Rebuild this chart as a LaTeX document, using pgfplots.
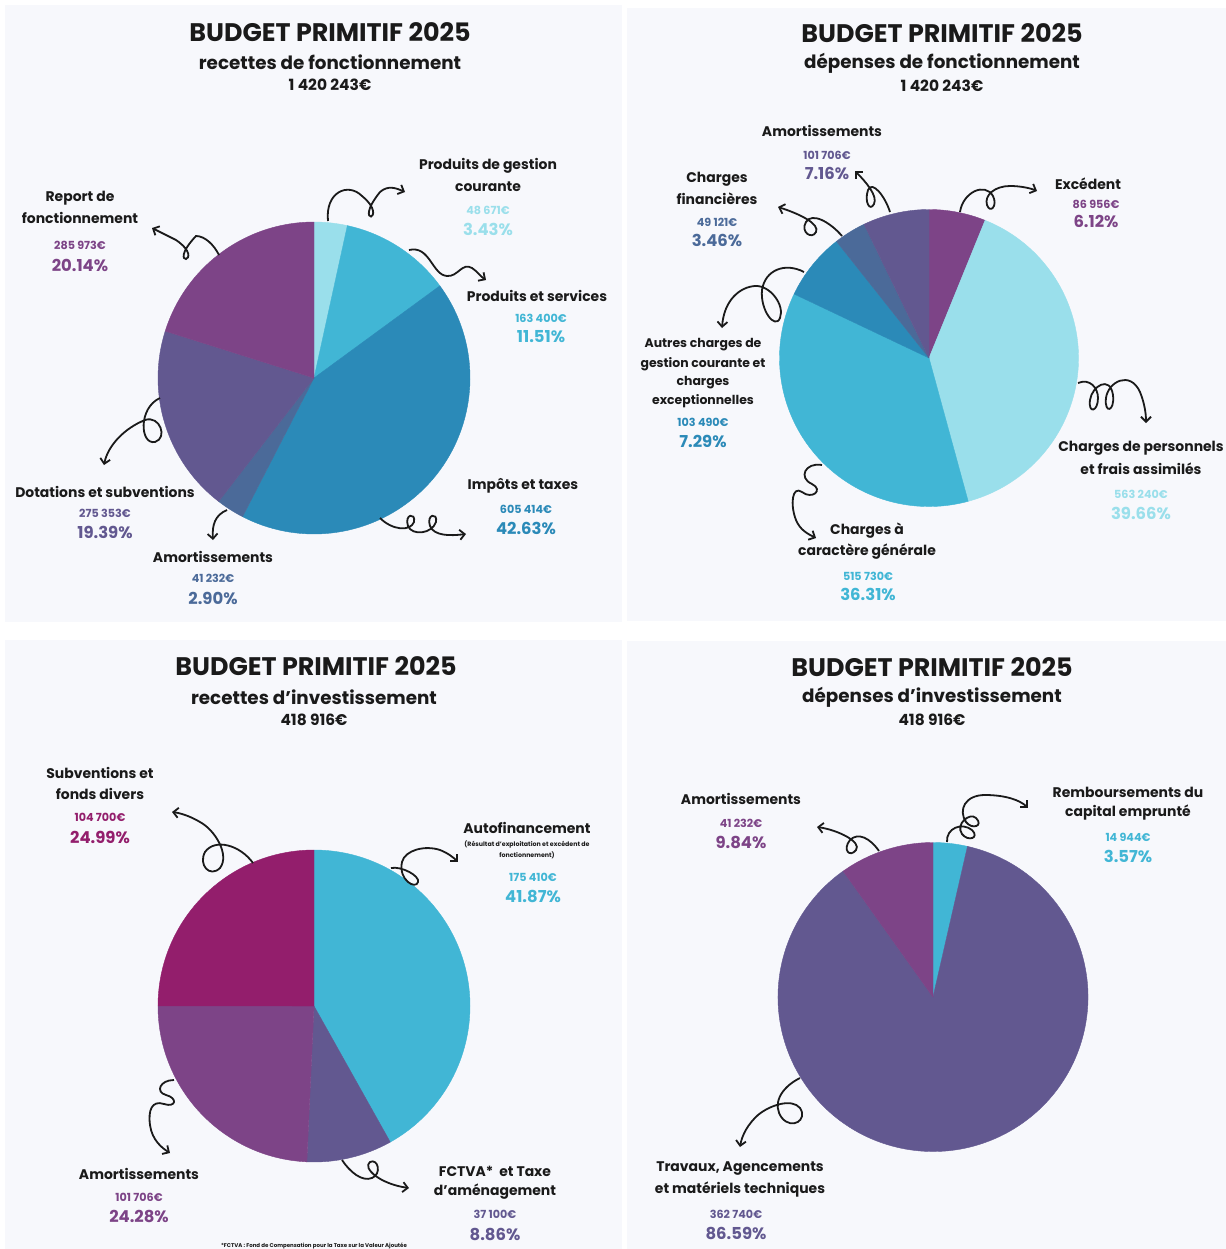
\documentclass[border=0pt]{standalone}
\usepackage{pgfplots}
\pgfplotsset{compat=1.18}
\usetikzlibrary{arrows.meta}
\usepackage{fontspec}
\setmainfont{Poppins}
\definecolor{bg}{HTML}{F7F8FC}
\definecolor{cLight}{HTML}{9ADFEB}
\definecolor{cCyan}{HTML}{41B6D5}
\definecolor{cBlue}{HTML}{2B8AB8}
\definecolor{cSlate}{HTML}{4B6A99}
\definecolor{cPB}{HTML}{625890}
\definecolor{cPurple}{HTML}{7D4487}
\definecolor{cMag}{HTML}{931E6C}
\definecolor{dark}{HTML}{1A1A1A}

\newcommand\pieslices[1]{%
  \xdef\cum{0}%
  \foreach \v/\c in {#1}{%
    \pgfmathsetmacro\a{90-3.6*\cum}%
    \pgfmathsetmacro\b{90-3.6*(\cum+\v)}%
    \edef\temp{\noexpand\fill[\c, draw=\c, line width=0.4bp, line join=round] (axis cs:0,0) -- (axis cs:{cos(\a)},{sin(\a)}) arc[start angle=\a, end angle=\b, radius=1] -- cycle;}%
    \temp
    \pgfmathsetmacro\newcum{\cum+\v}%
    \xdef\cum{\newcum}%
  }%
}
\pgfplotsset{pie/.style={anchor=center, scale only axis, xmin=-1,xmax=1,ymin=-1,ymax=1, hide axis, enlargelimits=false, clip=false}}

\newcommand\fT{\fontsize{25.5}{30}\selectfont\bfseries}
\newcommand\fS{\fontsize{18.4}{22}\selectfont\bfseries}
\newcommand\fTot{\fontsize{15.5}{18}\selectfont\bfseries}
\newcommand\fL{\fontsize{14}{17}\selectfont\bfseries}
\newcommand\fLs{\fontsize{12.5}{15}\selectfont\bfseries}
\newcommand\fA{\fontsize{11.2}{13}\selectfont\bfseries}
\newcommand\fP{\fontsize{16.5}{19}\selectfont\bfseries}
\tikzset{sq/.style={line width=1.8bp, draw=dark, -{Straight Barb[length=5bp,width=10bp]}}}

\begin{document}
\begin{tikzpicture}
\begin{scope}[x=1bp,y=-1bp]
\path[use as bounding box, fill=white] (0,0) rectangle (1226,1249);
\fill[bg] (5,5) rectangle (622,622);
\fill[bg] (627,8) rectangle (1226,621);
\fill[bg] (5,640) rectangle (622,1249);
\fill[bg] (627,641) rectangle (1226,1249);
\end{scope}

% Pie 1
\begin{axis}[pie, at={(314bp,-378bp)}, width=312bp, height=312bp]
\pieslices{3.43/cLight,11.51/cCyan,42.63/cBlue,2.90/cSlate,19.39/cPB,20.14/cPurple}
\end{axis}
% Pie 2
\begin{axis}[pie, at={(929bp,-358bp)}, width=299bp, height=297bp]
\pieslices{6.12/cPurple,39.66/cLight,36.31/cCyan,7.29/cBlue,3.46/cSlate,7.16/cPB}
\end{axis}
% Pie 3
\begin{axis}[pie, at={(314bp,-1006bp)}, width=312bp, height=312bp]
\pieslices{41.87/cCyan,8.86/cPB,24.28/cPurple,24.99/cMag}
\end{axis}
% Pie 4
\begin{axis}[pie, at={(933bp,-997bp)}, width=310bp, height=309bp]
\pieslices{3.57/cCyan,86.59/cPB,9.84/cPurple}
\end{axis}

\begin{scope}[x=1bp,y=-1bp, every node/.style={inner sep=0pt, align=center}]
% ---------- Panel 1 ----------
\node[font=\fT, text=dark] at (330,32) {BUDGET PRIMITIF 2025};
\node[font=\fS, text=dark] at (330,62) {recettes de fonctionnement};
\node[font=\fTot, text=dark] at (330,85) {1 420 243€};

\node[font=\fL, text=dark] at (488,166) {Produits de gestion};
\node[font=\fL, text=dark] at (488,187) {courante};
\node[font=\fA, text=cLight] at (488,210) {48 671€};
\node[font=\fP, text=cLight] at (488,229) {3.43\%};

\node[font=\fL, text=dark] at (80,198) {Report de};
\node[font=\fL, text=dark] at (80,218) {fonctionnement};
\node[font=\fA, text=cPurple] at (80,245) {285 973€};
\node[font=\fP, text=cPurple] at (80,265) {20.14\%};

\node[font=\fL, text=dark] at (537,296) {Produits et services};
\node[font=\fA, text=cCyan] at (541,318) {163 400€};
\node[font=\fP, text=cCyan] at (541,337) {11.51\%};

\node[font=\fL, text=dark] at (523,486) {Impôts et taxes};
\node[font=\fA, text=cBlue] at (526,509) {605 414€};
\node[font=\fP, text=cBlue] at (526,528) {42.63\%};

\node[font=\fL, text=dark] at (105,492) {Dotations et subventions};
\node[font=\fA, text=cPB] at (105,513) {275 353€};
\node[font=\fP, text=cPB] at (105,532) {19.39\%};

\node[font=\fL, text=dark] at (213,557) {Amortissements};
\node[font=\fA, text=cSlate] at (213,578) {41 232€};
\node[font=\fP, text=cSlate] at (213,598) {2.90\%};

\draw[sq] (328,221) .. controls (325,192) and (348,182) .. (362,196) .. controls (391,220) and (351,228) .. (380,192) .. controls (388,185) and (396,188) .. (405,192);
\draw[sq] (409,250) .. controls (430,245) and (432,275) .. (447,276) .. controls (458,277) and (462,262) .. (472,268) .. controls (478,272) and (480,276) .. (486,280);
\draw[sq] (219,255) .. controls (214,245) and (205,236) .. (196,236) .. controls (164,270) and (208,262) .. (176,240) .. controls (168,236) and (160,232) .. (152,228);
\draw[sq] (160,398) .. controls (138,408) and (140,445) .. (155,442) .. controls (168,438) and (160,415) .. (145,420) .. controls (125,428) and (108,445) .. (104,465);
\draw[sq] (227,510) .. controls (215,515) and (212,525) .. (213,540);
\draw[sq] (380,518) .. controls (392,530) and (410,532) .. (414,522) .. controls (416,512) and (404,514) .. (408,526) .. controls (412,536) and (432,534) .. (436,522) .. controls (438,512) and (426,514) .. (430,526) .. controls (434,536) and (450,536) .. (466,534);

% ---------- Panel 2 ----------
\node[font=\fT, text=dark] at (942,33) {BUDGET PRIMITIF 2025};
\node[font=\fS, text=dark] at (942,63) {dépenses de fonctionnement};
\node[font=\fTot, text=dark] at (942,86) {1 420 243€};

\node[font=\fL, text=dark] at (822,131) {Amortissements};
\node[font=\fA, text=cPB] at (827,155) {101 706€};
\node[font=\fP, text=cPB] at (827,173) {7.16\%};

\node[font=\fL, text=dark] at (717,179) {Charges};
\node[font=\fL, text=dark] at (717,199) {financières};
\node[font=\fA, text=cSlate] at (717,222) {49 121€};
\node[font=\fP, text=cSlate] at (717,240) {3.46\%};

\node[font=\fL, text=dark] at (1088,184) {Excédent};
\node[font=\fA, text=cPurple] at (1096,204) {86 956€};
\node[font=\fP, text=cPurple] at (1096,221) {6.12\%};

\node[font=\fLs, text=dark] at (703,345) {Autres charges de};
\node[font=\fLs, text=dark] at (703,364) {gestion courante et};
\node[font=\fLs, text=dark] at (703,383) {charges};
\node[font=\fLs, text=dark] at (703,401) {exceptionnelles};
\node[font=\fA, text=cBlue] at (703,422) {103 490€};
\node[font=\fP, text=cBlue] at (703,441) {7.29\%};

\node[font=\fL, text=dark] at (1141,448) {Charges de personnels};
\node[font=\fL, text=dark] at (1141,469) {et frais assimilés};
\node[font=\fA, text=cLight] at (1141,494) {563 240€};
\node[font=\fP, text=cLight] at (1141,513) {39.66\%};

\node[font=\fL, text=dark] at (867,531) {Charges à};
\node[font=\fL, text=dark] at (867,552) {caractère générale};
\node[font=\fA, text=cCyan] at (868,576) {515 730€};
\node[font=\fP, text=cCyan] at (868,594) {36.31\%};

\draw[sq] (960,212) .. controls (963,192) and (985,182) .. (993,196) .. controls (998,206) and (990,214) .. (987,205) .. controls (984,195) and (995,186) .. (1010,186) .. controls (1020,186) and (1030,188) .. (1037,191);
\draw[sq] (890,212) .. controls (885,196) and (872,180) .. (868,190) .. controls (864,202) and (870,212) .. (874,204) .. controls (878,196) and (866,182) .. (855,171);
\draw[sq] (842,236) .. controls (830,222) and (812,212) .. (806,222) .. controls (800,232) and (812,240) .. (816,232) .. controls (820,224) and (800,214) .. (778,207);
\draw[sq] (804,272) .. controls (785,262) and (765,270) .. (762,290) .. controls (760,310) and (775,330) .. (780,318) .. controls (785,305) and (770,285) .. (755,286) .. controls (740,287) and (724,300) .. (722,328);
\draw[sq] (1078,383) .. controls (1090,378) and (1098,388) .. (1098,398) .. controls (1098,412) and (1088,414) .. (1090,400) .. controls (1092,386) and (1110,375) .. (1113,395) .. controls (1115,412) and (1104,414) .. (1106,398) .. controls (1108,382) and (1130,370) .. (1140,392) .. controls (1144,402) and (1146,412) .. (1146,423);
\draw[sq] (822,465) .. controls (805,462) and (798,478) .. (812,484) .. controls (824,490) and (812,500) .. (802,492) .. controls (792,485) and (790,505) .. (796,520) .. controls (800,530) and (808,534) .. (816,538);

% ---------- Panel 3 ----------
\node[font=\fT, text=dark] at (316,666) {BUDGET PRIMITIF 2025};
\node[font=\fS, text=dark] at (314,697) {recettes d’investissement};
\node[font=\fTot, text=dark] at (314,720) {418 916€};

\node[font=\fL, text=dark] at (100,773) {Subventions et};
\node[font=\fL, text=dark] at (100,794) {fonds divers};
\node[font=\fA, text=cMag] at (100,817) {104 700€};
\node[font=\fP, text=cMag] at (100,837) {24.99\%};

\node[font=\fL, text=dark] at (527,828) {Autofinancement};
\node[font=\fontsize{6.3}{8}\selectfont\bfseries, text=dark] at (527,844) {(Résultat d’exploitation et excédent de};
\node[font=\fontsize{6.3}{8}\selectfont\bfseries, text=dark] at (527,855) {fonctionnement)};
\node[font=\fA, text=cCyan] at (533,877) {175 410€};
\node[font=\fP, text=cCyan] at (533,896) {41.87\%};

\node[font=\fL, text=dark] at (139,1174) {Amortissements};
\node[font=\fA, text=cPurple] at (139,1197) {101 706€};
\node[font=\fP, text=cPurple] at (139,1216) {24.28\%};

\node[font=\fL, text=dark] at (495,1171) {FCTVA* \ et Taxe};
\node[font=\fL, text=dark] at (495,1192) {d’aménagement};
\node[font=\fA, text=cPB] at (495,1214) {37 100€};
\node[font=\fP, text=cPB] at (495,1234) {8.86\%};

\node[font=\fontsize{5.5}{7}\selectfont\bfseries, text=dark] at (314,1246) {*FCTVA : Fond de Compensation pour la Taxe sur la Valeur Ajoutée};

\draw[sq] (253,863) .. controls (240,845) and (215,838) .. (205,852) .. controls (198,865) and (210,878) .. (220,868) .. controls (230,855) and (215,830) .. (200,822) .. controls (190,816) and (180,813) .. (172,812);
\draw[sq] (391,868) .. controls (402,866) and (420,876) .. (418,882) .. controls (416,890) and (398,880) .. (402,862) .. controls (405,850) and (425,845) .. (440,850) .. controls (448,853) and (454,858) .. (458,862);
\draw[sq] (174,1080) .. controls (160,1080) and (155,1092) .. (166,1095) .. controls (178,1098) and (176,1108) .. (164,1104) .. controls (152,1100) and (148,1110) .. (150,1125) .. controls (152,1140) and (162,1148) .. (170,1153);
\draw[sq] (342,1160) .. controls (350,1172) and (362,1182) .. (372,1178) .. controls (382,1174) and (378,1158) .. (370,1162) .. controls (362,1168) and (380,1184) .. (409,1188);

% ---------- Panel 4 ----------
\node[font=\fT, text=dark] at (932,667) {BUDGET PRIMITIF 2025};
\node[font=\fS, text=dark] at (932,697) {dépenses d’investissement};
\node[font=\fTot, text=dark] at (932,720) {418 916€};

\node[font=\fL, text=dark] at (741,799) {Amortissements};
\node[font=\fA, text=cPurple] at (741,823) {41 232€};
\node[font=\fP, text=cPurple] at (741,842) {9.84\%};

\node[font=\fL, text=dark] at (1128,792) {Remboursements du};
\node[font=\fL, text=dark] at (1128,813) {capital emprunté};
\node[font=\fA, text=cCyan] at (1128,837) {14 944€};
\node[font=\fP, text=cCyan] at (1128,856) {3.57\%};

\node[font=\fL, text=dark] at (740,1169) {Travaux, Agencements};
\node[font=\fL, text=dark] at (740,1190) {et matériels techniques};
\node[font=\fA, text=cPB] at (736,1214) {362 740€};
\node[font=\fP, text=cPB] at (736,1233) {86.59\%};

\draw[sq] (947,842) .. controls (946,828) and (962,822) .. (972,830) .. controls (980,838) and (968,842) .. (962,834) .. controls (955,824) and (970,812) .. (976,818) .. controls (984,826) and (972,830) .. (966,822) .. controls (958,810) and (965,795) .. (985,795) .. controls (1005,795) and (1020,800) .. (1028,808);
\draw[sq] (879,851) .. controls (870,838) and (858,832) .. (850,840) .. controls (842,850) and (850,858) .. (856,850) .. controls (862,842) and (838,830) .. (817,827);
\draw[sq] (800,1078) .. controls (780,1088) and (772,1105) .. (782,1118) .. controls (792,1130) and (808,1120) .. (800,1108) .. controls (792,1098) and (770,1105) .. (758,1115) .. controls (748,1124) and (742,1135) .. (740,1147);
\end{scope}
\end{tikzpicture}
\end{document}
